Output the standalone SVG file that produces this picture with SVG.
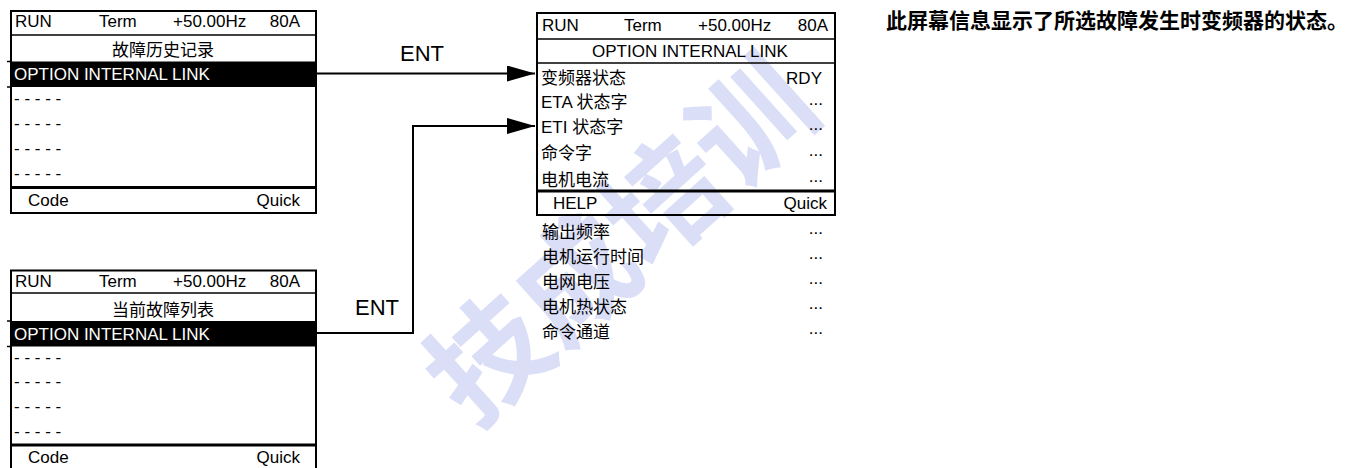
<svg xmlns="http://www.w3.org/2000/svg" width="1364" height="468" viewBox="0 0 1364 468">
<defs>
<style>
.t{font-family:"Liberation Sans","Noto Sans CJK SC",Arial,sans-serif;font-size:17px;fill:#000}
.c{font-family:"Noto Sans CJK SC","Liberation Sans",sans-serif;font-size:17px;fill:#000}
.w{fill:#fff}
.e{text-anchor:end}
.m{text-anchor:middle}
.frame{fill:none;stroke:#000;stroke-width:2}
.thin{stroke:#000;stroke-width:1.5}
.thick{stroke:#000;stroke-width:3}
.conn{fill:none;stroke:#000;stroke-width:2}
.lbl{font-family:"Liberation Sans",Arial,sans-serif;font-size:22px;fill:#000}
.wm{font-family:"Noto Sans CJK SC",sans-serif;font-size:118px;font-weight:700;fill:#dadef7;text-anchor:middle}
</style>
<marker id="ah" markerUnits="userSpaceOnUse" markerWidth="28" markerHeight="16" refX="28" refY="8" orient="auto">
<path d="M0,0 L28,8 L0,16 Z" fill="#000"/>
</marker>
</defs>
<rect width="1364" height="468" fill="#fff"/>

<g id="watermark">
<text class="wm" x="0" y="51" transform="translate(615,234) rotate(-42)">技成培训</text>
</g>

<g id="screen-history">
<rect x="11" y="11" width="305" height="202" fill="#fff"/>
<rect class="frame" x="11" y="11" width="305" height="202"/>
<line class="thin" x1="11" y1="35" x2="316" y2="35"/>
<rect x="11" y="61.5" width="305" height="25.5" fill="#000"/>
<line class="thin" x1="7" y1="61.5" x2="11" y2="61.5"/>
<line class="thin" x1="7" y1="87" x2="11" y2="87"/>
<line class="thick" x1="11" y1="187.5" x2="316" y2="187.5"/>
<text class="t" x="15" y="27">RUN</text>
<text class="t" x="99" y="27">Term</text>
<text class="t" x="173" y="27">+50.00Hz</text>
<text class="t e" x="300" y="27">80A</text>
<text class="c m" x="163" y="56">故障历史记录</text>
<text class="t w" x="14" y="80">OPTION INTERNAL LINK</text>
<text class="t" x="14" y="104">- - - - -</text>
<text class="t" x="14" y="129">- - - - -</text>
<text class="t" x="14" y="154">- - - - -</text>
<text class="t" x="14" y="179">- - - - -</text>
<text class="t" x="28" y="205.5">Code</text>
<text class="t e" x="300" y="205.5">Quick</text>
</g>

<g id="screen-current">
<rect x="11" y="270.5" width="305" height="198" fill="#fff"/>
<path class="frame" d="M11,468 V270.5 H316 V468"/>
<line class="thin" x1="11" y1="293" x2="316" y2="293"/>
<rect x="11" y="321" width="305" height="25.5" fill="#000"/>
<line class="thin" x1="7" y1="321" x2="11" y2="321"/>
<line class="thin" x1="7" y1="346.5" x2="11" y2="346.5"/>
<line class="thick" x1="11" y1="445" x2="316" y2="445"/>
<text class="t" x="15" y="286.5">RUN</text>
<text class="t" x="99" y="286.5">Term</text>
<text class="t" x="173" y="286.5">+50.00Hz</text>
<text class="t e" x="300" y="286.5">80A</text>
<text class="c m" x="163" y="315.5">当前故障列表</text>
<text class="t w" x="14" y="339.5">OPTION INTERNAL LINK</text>
<text class="t" x="14" y="363">- - - - -</text>
<text class="t" x="14" y="387">- - - - -</text>
<text class="t" x="14" y="412">- - - - -</text>
<text class="t" x="14" y="437">- - - - -</text>
<text class="t" x="28" y="463">Code</text>
<text class="t e" x="300" y="463">Quick</text>
</g>

<g id="screen-detail">
<rect class="frame" x="537" y="13" width="298" height="202"/>
<line class="thin" x1="537" y1="39" x2="835" y2="39"/>
<line class="thin" x1="537" y1="63" x2="835" y2="63"/>
<line class="thick" x1="537" y1="191" x2="835" y2="191"/>
<text class="t" x="542" y="31">RUN</text>
<text class="t" x="624" y="31">Term</text>
<text class="t" x="698" y="31">+50.00Hz</text>
<text class="t e" x="828" y="31">80A</text>
<text class="t m" x="690" y="56.5">OPTION INTERNAL LINK</text>
<text class="c" x="541" y="84">变频器状态</text>
<text class="t e" x="822" y="83.5">RDY</text>
<text class="t" x="541" y="107.5">ETA 状态字</text>
<text class="t e" x="823" y="104.5">...</text>
<text class="t" x="541" y="133">ETI 状态字</text>
<text class="t e" x="823" y="129.5">...</text>
<text class="c" x="541" y="159">命令字</text>
<text class="t e" x="823" y="155.5">...</text>
<text class="c" x="541" y="186">电机电流</text>
<text class="t e" x="823" y="182">...</text>
<text class="t" x="553" y="208.5">HELP</text>
<text class="t e" x="827" y="208.5">Quick</text>
</g>

<g id="detail-list">
<text class="c" x="542" y="238">输出频率</text>
<text class="t e" x="823" y="234">...</text>
<text class="c" x="542" y="263">电机运行时间</text>
<text class="t e" x="823" y="259">...</text>
<text class="c" x="542" y="288">电网电压</text>
<text class="t e" x="823" y="284">...</text>
<text class="c" x="542" y="313">电机热状态</text>
<text class="t e" x="823" y="309">...</text>
<text class="c" x="542" y="338">命令通道</text>
<text class="t e" x="823" y="334">...</text>
</g>

<g id="note">
<text class="c" x="886" y="28" style="font-size:21px;font-weight:700">此屏幕信息显示了所选故障发生时变频器的状态。</text>
</g>

<g id="connectors">
<line class="conn" x1="316" y1="73.5" x2="535" y2="73.5" marker-end="url(#ah)"/>
<path class="conn" d="M316,333 H413 V126 H535" marker-end="url(#ah)"/>
<text class="lbl m" x="422" y="60.5">ENT</text>
<text class="lbl m" x="377" y="315">ENT</text>
</g>
</svg>
